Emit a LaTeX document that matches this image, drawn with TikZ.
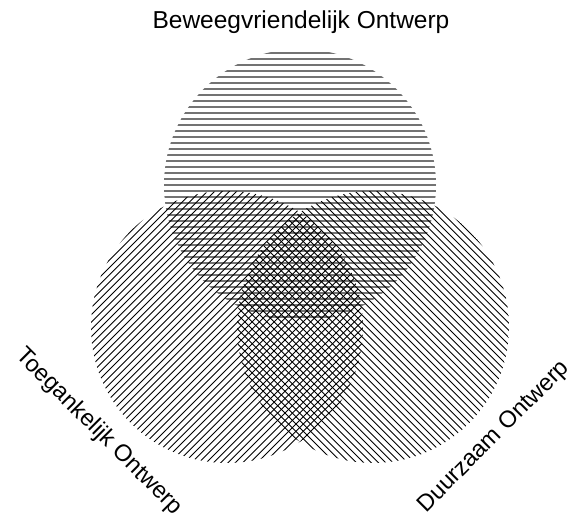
\documentclass[tikz,border=0pt]{standalone}
\usepackage{fontspec}
\setmainfont{Liberation Sans}
\begin{document}
\begin{tikzpicture}[x=1pt,y=-1pt,
  hline/.style={line width=2pt,black!55},
  dline/.style={line width=0.9pt,black},
  lbl/.style={inner sep=0pt,font=\fontsize{24.5}{28}\selectfont},
  rlbl/.style={inner sep=0pt,font=\fontsize{23.5}{28}\selectfont}]
\useasboundingbox[fill=white] (0,0) rectangle (574,521);
% circle centres
\coordinate (T) at (300,185);
\coordinate (L) at (227,327);
\coordinate (R) at (373,327);
% top circle: horizontal hatching
\begin{scope}
  \clip (T) circle[radius=136];
  \foreach \y in {52.7,58.7,...,325} \draw[hline] (150,\y) -- (450,\y);
\end{scope}
% left circle: / hatching
\begin{scope}
  \clip (L) circle[radius=136];
  \foreach \c in {355,362.3,...,760} \draw[dline] (\c-600,600) -- (\c,0);
\end{scope}
% right circle: \ hatching
\begin{scope}
  \clip (R) circle[radius=136];
  \foreach \c in {-150,-142.7,...,245} \draw[dline] (\c,0) -- (\c+600,600);
\end{scope}
\node[lbl,anchor=base] (tb) at (301,29) {Beweegvriendelijk Ontwerp};
\node[rlbl,rotate=-45] (tl) at (99,432) {Toegankelijk Ontwerp};
\node[rlbl,rotate=45] (tr) at (494,437) {Duurzaam Ontwerp};
\end{tikzpicture}
\end{document}
